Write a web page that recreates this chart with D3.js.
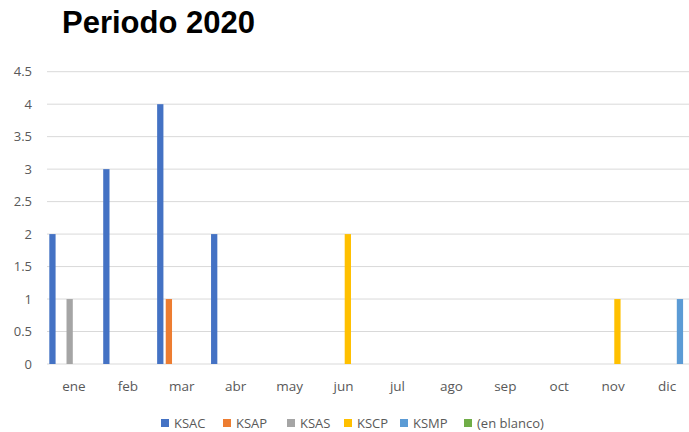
<!DOCTYPE html>
<html>
<head>
<meta charset="utf-8">
<script src="https://cdn.jsdelivr.net/npm/d3@7/dist/d3.min.js"></script>
<style>
  html, body { margin: 0; padding: 0; background: #fff; }
  svg { display: block; }
</style>
</head>
<body>
<svg id="chart" width="689" height="432"></svg>
<script>
const months = ["ene", "feb", "mar", "abr", "may", "jun", "jul", "ago", "sep", "oct", "nov", "dic"];
const seriesNames = ["KSAC", "KSAP", "KSAS", "KSCP", "KSMP", "(en blanco)"];
const seriesColors = ["#4472C4", "#ED7D31", "#A5A5A5", "#FFC000", "#5B9BD5", "#70AD47"];
const KSAC = [2, 3, 4, 2, 0, 0, 0, 0, 0, 0, 0, 0];
const KSAP = [0, 0, 1, 0, 0, 0, 0, 0, 0, 0, 0, 0];
const KSAS = [1, 0, 0, 0, 0, 0, 0, 0, 0, 0, 0, 0];
const KSCP = [0, 0, 0, 0, 0, 2, 0, 0, 0, 0, 1, 0];
const KSMP = [0, 0, 0, 0, 0, 0, 0, 0, 0, 0, 0, 1];
const enBlanco = [0, 0, 0, 0, 0, 0, 0, 0, 0, 0, 0, 0];
const yTicks = [0, 0.5, 1, 1.5, 2, 2.5, 3, 3.5, 4, 4.5];

const seriesValues = [KSAC, KSAP, KSAS, KSCP, KSMP, enBlanco];

const svg = d3.select("#chart");
const plotLeft = 47, plotRight = 694, plotTop = 71.7, plotBottom = 364;

const x = d3.scaleBand().domain(months).range([plotLeft, plotRight]).paddingInner(0).paddingOuter(0);
const inner = d3.scaleBand().domain(seriesNames)
  .range([2.3, x.bandwidth() - 2.3]).paddingInner(0.27).paddingOuter(0);
const y = d3.scaleLinear().domain([0, 4.5]).range([plotBottom, plotTop]);

// title
svg.append("text")
  .attr("x", 62).attr("y", 33)
  .attr("font-family", "Liberation Sans, Arial, sans-serif")
  .attr("font-weight", "bold").attr("font-size", 31)
  .attr("fill", "#000")
  .text("Periodo 2020");

// gridlines
svg.append("g").selectAll("line").data(yTicks).join("line")
  .attr("x1", plotLeft).attr("x2", 689)
  .attr("y1", d => y(d)).attr("y2", d => y(d))
  .attr("stroke", "#d9d9d9").attr("stroke-width", 1);

// y axis labels
const yAxis = d3.axisLeft(y).tickValues(yTicks).tickSize(0).tickPadding(0)
  .tickFormat(d => String(d));
svg.append("g")
  .attr("transform", `translate(32,0)`)
  .call(yAxis)
  .call(g => g.select(".domain").remove())
  .call(g => g.selectAll("text")
    .attr("font-family", "Open Sans, sans-serif").attr("font-size", 13)
    .attr("fill", "#595959"));

// x axis labels
const xAxis = d3.axisBottom(x).tickSize(0).tickPadding(0);
svg.append("g")
  .attr("transform", `translate(0,${plotBottom + 17})`)
  .call(xAxis)
  .call(g => g.select(".domain").remove())
  .call(g => g.selectAll("text")
    .attr("font-family", "Open Sans, sans-serif").attr("font-size", 13.5)
    .attr("fill", "#595959"));

// bars
const barData = [];
months.forEach((m, i) => {
  seriesNames.forEach((s, j) => {
    barData.push({ month: m, series: s, value: seriesValues[j][i], color: seriesColors[j] });
  });
});
svg.append("g").selectAll("rect").data(barData.filter(d => d.value > 0)).join("rect")
  .attr("x", d => x(d.month) + inner(d.series))
  .attr("width", inner.bandwidth())
  .attr("y", d => y(d.value))
  .attr("height", d => y(0) - y(d.value))
  .attr("fill", d => d.color);

// legend
const legendX = [161, 223, 287, 344, 400, 464];
const legend = svg.append("g").selectAll("g").data(seriesNames).join("g")
  .attr("transform", (d, i) => `translate(${legendX[i]},423)`);
legend.append("rect")
  .attr("x", 0).attr("y", -4).attr("width", 8).attr("height", 8)
  .attr("fill", (d, i) => seriesColors[i]);
legend.append("text")
  .attr("x", 13).attr("y", 0).attr("dy", "0.35em")
  .attr("font-family", "Open Sans, sans-serif").attr("font-size", 13)
  .attr("fill", "#595959")
  .text(d => d);
</script>
</body>
</html>
